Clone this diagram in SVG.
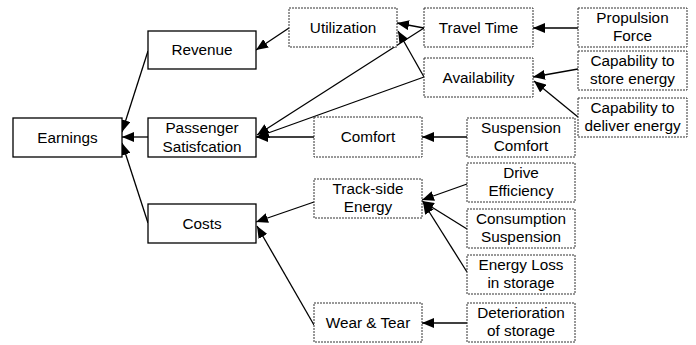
<svg xmlns="http://www.w3.org/2000/svg" width="696" height="345" viewBox="0 0 696 345">
<defs>
<marker id="ah" markerWidth="12" markerHeight="10" refX="12" refY="5" orient="auto" markerUnits="userSpaceOnUse">
<path d="M0,0 L12,5 L0,10 Z" fill="#000"/>
</marker>
<style>
.s{fill:#fff;stroke:#000;stroke-width:1.3}
.d{fill:#fff;stroke:#333;stroke-width:1;stroke-dasharray:2,1}
text{font-family:"Liberation Sans",Arial,sans-serif;font-size:15.3px;fill:#000;text-anchor:middle}
.c line{stroke:#000;stroke-width:1.3;marker-end:url(#ah)}
</style>
</defs>
<rect width="696" height="345" fill="#fff"/>
<g class="c" id="connectors">
<line x1="148" y1="51" x2="122" y2="132"/>
<line x1="148" y1="137" x2="122" y2="137"/>
<line x1="148" y1="223" x2="122" y2="143"/>
<line x1="289" y1="28" x2="256" y2="50"/>
<line x1="424" y1="28" x2="397" y2="23"/>
<line x1="424" y1="77" x2="398" y2="31"/>
<line x1="424" y1="28" x2="257" y2="135"/>
<line x1="424" y1="77" x2="257" y2="137"/>
<line x1="314" y1="137" x2="256" y2="137"/>
<line x1="578" y1="28" x2="533" y2="28"/>
<line x1="578" y1="69" x2="533" y2="77"/>
<line x1="578" y1="117" x2="534" y2="81"/>
<line x1="467" y1="137" x2="422" y2="137"/>
<line x1="314" y1="202" x2="256" y2="222"/>
<line x1="314" y1="325" x2="257" y2="226"/>
<line x1="467" y1="184" x2="422" y2="200"/>
<line x1="467" y1="229" x2="422" y2="201"/>
<line x1="467" y1="272" x2="423" y2="202"/>
<line x1="467" y1="323" x2="422" y2="323"/>
</g>
<g id="earnings"><rect class="s" x="13" y="118" width="109" height="39"/><text x="67.5" y="143">Earnings</text></g>
<g id="revenue"><rect class="s" x="148" y="31" width="108" height="38"/><text x="202" y="55">Revenue</text></g>
<g id="passenger"><rect class="s" x="148" y="118" width="108" height="39"/><text x="202" y="133">Passenger</text><text x="202" y="151.5">Satisfcation</text></g>
<g id="costs"><rect class="s" x="148" y="204" width="108" height="39"/><text x="202" y="229">Costs</text></g>
<g id="utilization"><rect class="d" x="289" y="8" width="108" height="39"/><text x="343" y="33">Utilization</text></g>
<g id="comfort"><rect class="d" x="314" y="117" width="108" height="40"/><text x="368" y="142">Comfort</text></g>
<g id="trackside"><rect class="d" x="314" y="179" width="108" height="39"/><text x="368" y="194">Track-side</text><text x="368" y="212">Energy</text></g>
<g id="weartear"><rect class="d" x="314" y="303" width="108" height="39"/><text x="368" y="328">Wear &amp; Tear</text></g>
<g id="traveltime"><rect class="d" x="424" y="8" width="109" height="39"/><text x="478.5" y="33">Travel Time</text></g>
<g id="availability"><rect class="d" x="424" y="58" width="109" height="39"/><text x="478.5" y="83">Availability</text></g>
<g id="propulsion"><rect class="d" x="578" y="8" width="109" height="39"/><text x="632.5" y="23">Propulsion</text><text x="632.5" y="41">Force</text></g>
<g id="capstore"><rect class="d" x="578" y="51" width="109" height="39"/><text x="632.5" y="66">Capability to</text><text x="632.5" y="84">store energy</text></g>
<g id="capdeliver"><rect class="d" x="578" y="98" width="109" height="39"/><text x="632.5" y="113">Capability to</text><text x="632.5" y="131">deliver energy</text></g>
<g id="suspcomfort"><rect class="d" x="467" y="118" width="108" height="39"/><text x="521" y="133">Suspension</text><text x="521" y="151">Comfort</text></g>
<g id="drive"><rect class="d" x="467" y="163" width="108" height="39"/><text x="521" y="178">Drive</text><text x="521" y="196">Efficiency</text></g>
<g id="consumption"><rect class="d" x="467" y="209" width="108" height="39"/><text x="521" y="224">Consumption</text><text x="521" y="242">Suspension</text></g>
<g id="energyloss"><rect class="d" x="467" y="255" width="108" height="39"/><text x="521" y="270">Energy Loss</text><text x="521" y="288">in storage</text></g>
<g id="deterioration"><rect class="d" x="467" y="303" width="108" height="39"/><text x="521" y="318">Deterioration</text><text x="521" y="336">of storage</text></g>
</svg>
